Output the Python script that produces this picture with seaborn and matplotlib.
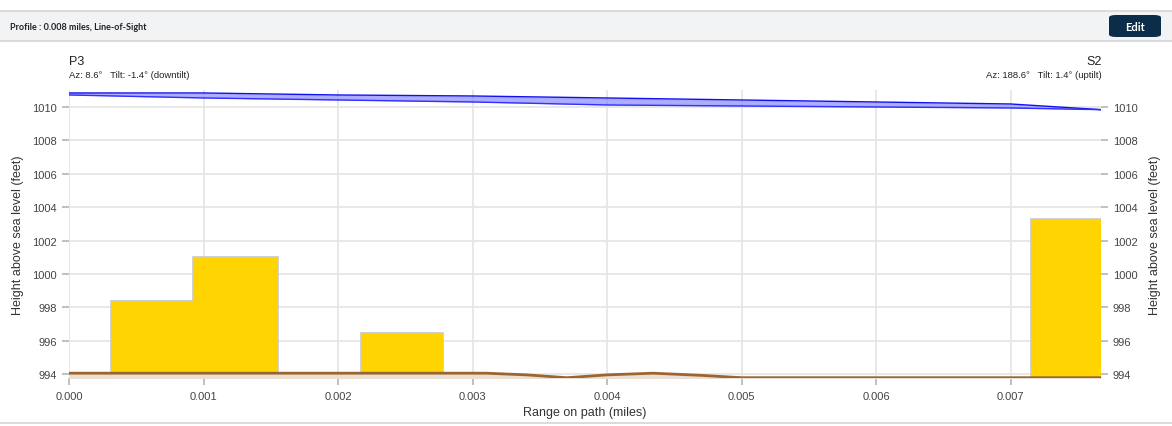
import numpy as np
import pandas as pd
import matplotlib
matplotlib.use("Agg")
import matplotlib.pyplot as plt
import seaborn as sns
from matplotlib.patches import Rectangle, FancyBboxPatch

# ---- data ----
# clutter blocks (range start, range end, top height)
block_start = [0.00031, 0.00092, 0.00217, 0.00715]
block_end = [0.00092, 0.00155, 0.00278, 0.00767]
block_top = [998.35, 1001.0, 996.45, 1003.3]

# terrain profile
terrain_x = [0.0, 0.0031, 0.0034, 0.0037, 0.0040, 0.00434, 0.0047, 0.0050, 0.00767]
terrain_y = [994.05, 994.05, 993.95, 993.78, 993.95, 994.05, 993.92, 993.78, 993.78]

# line-of-sight band (upper / lower edge)
los_x = [0.0, 0.001, 0.002, 0.003, 0.004, 0.005, 0.006, 0.007, 0.00767]
los_upper = [1010.84, 1010.84, 1010.72, 1010.66, 1010.54, 1010.42, 1010.30, 1010.18, 1009.84]
los_lower = [1010.72, 1010.54, 1010.42, 1010.30, 1010.12, 1010.06, 1010.00, 1009.94, 1009.84]

x_ticks = [0.000, 0.001, 0.002, 0.003, 0.004, 0.005, 0.006, 0.007]
y_ticks = [994, 996, 998, 1000, 1002, 1004, 1006, 1008, 1010]

sns.set_theme(style="whitegrid")
plt.rcParams['font.family'] = ['Liberation Sans', 'DejaVu Sans']

fig = plt.figure(figsize=(11.72, 4.27), dpi=100)
ax = fig.add_axes([69 / 1172, 1 - 379.2 / 427, (1101 - 69) / 1172, (379.2 - 91.3) / 427])

ymin, ymax = 993.75, 1011.0

# clutter blocks: outlines first, then plain fills on top so shared edges vanish
widths = np.array(block_end) - np.array(block_start)
heights = np.array(block_top) - ymin
ax.bar(block_start, heights, width=widths, bottom=ymin, align="edge",
       color="#ffd400", edgecolor="#c8c8c8", linewidth=1.2, zorder=2)
ax.bar(block_start, heights, width=widths, bottom=ymin, align="edge",
       color="#ffd400", linewidth=0, zorder=2.5)

# terrain
terrain = pd.DataFrame({"x": terrain_x, "y": terrain_y})
ax.fill_between(terrain["x"], terrain["y"], ymin, color="#eadfd3", zorder=3)
sns.lineplot(data=terrain, x="x", y="y", ax=ax, color="#9c6430", linewidth=2, zorder=4)

# line of sight band
ax.fill_between(los_x, los_lower, los_upper, color="#4040ff", alpha=0.45, lw=0, zorder=4)
mid = (np.array(los_upper) + np.array(los_lower)) / 2
ax.plot(los_x, mid, color="#b0b0ff", linewidth=1, zorder=5)
sns.lineplot(x=los_x, y=los_upper, ax=ax, color="#1010ee", linewidth=1, zorder=5)
sns.lineplot(x=los_x, y=los_lower, ax=ax, color="#3030ff", linewidth=1, zorder=5)

ax.set_xlim(0, 0.00767)
ax.set_ylim(ymin, ymax)
ax.set_xticks(x_ticks)
ax.set_xticklabels([f"{t:.3f}" for t in x_ticks])
ax.set_yticks(y_ticks)
ax.grid(True, color="#e6e6e6", linewidth=1.3)
ax.set_axisbelow(True)
for s in ax.spines.values():
    s.set_visible(False)

tick_kw = dict(color="#bbbbbb", labelcolor="#444444", labelsize=8, length=5, width=1.3)
ax.tick_params(axis="both", which="both", bottom=True, left=True, **tick_kw)
ax.tick_params(axis="x", pad=4)
ax.set_xlabel("Range on path (miles)", fontsize=9, color="#333333", labelpad=4)
ax.set_ylabel("Height above sea level (feet)", fontsize=9, color="#333333", labelpad=6)

ax2 = ax.twinx()
ax2.set_ylim(ymin, ymax)
ax2.set_yticks(y_ticks)
ax2.grid(False)
for s in ax2.spines.values():
    s.set_visible(False)
ax2.tick_params(axis="y", right=True, **tick_kw)
ax2.set_ylabel("Height above sea level (feet)", fontsize=9, color="#333333", labelpad=8)

# site labels
fig.text(69 / 1172, 1 - 62 / 427, "P3", fontsize=9, color="#222222", va="center")
fig.text(69 / 1172, 1 - 76 / 427, "Az: 8.6°   Tilt: -1.4° (downtilt)", fontsize=6.8,
         color="#222222", va="center")
fig.text(1102 / 1172, 1 - 62 / 427, "S2", fontsize=9, color="#222222", va="center", ha="right")
fig.text(1102 / 1172, 1 - 76 / 427, "Az: 188.6°   Tilt: 1.4° (uptilt)", fontsize=6.8,
         color="#222222", va="center", ha="right")

# header band
fig.patches.append(Rectangle((0, 1 - 42 / 427), 1, 30 / 427, transform=fig.transFigure,
                             facecolor="#f2f3f5", edgecolor="none", zorder=0))
for yy in [12, 42, 424]:
    fig.add_artist(plt.Line2D([0, 1], [1 - yy / 427] * 2, transform=fig.transFigure,
                              color="#d4d4d4", linewidth=1.2))
fig.text(10 / 1172, 1 - 28 / 427, "Profile : 0.008 miles, Line-of-Sight", fontsize=6.5,
         fontweight="bold", color="#222222", va="center", family=["Lato", "DejaVu Sans"])
fig.patches.append(FancyBboxPatch((1109 / 1172, 1 - 38 / 427), 52 / 1172, 22 / 427,
                                  boxstyle="round,pad=0,rounding_size=0.006",
                                  transform=fig.transFigure, facecolor="#0c2d4a",
                                  edgecolor="none", zorder=1))
fig.text(1135 / 1172, 1 - 27.5 / 427, "Edit", fontsize=8, fontweight="bold", color="white",
         ha="center", va="center", family=["Lato", "DejaVu Sans"])

fig.savefig("out.png", dpi=100)
